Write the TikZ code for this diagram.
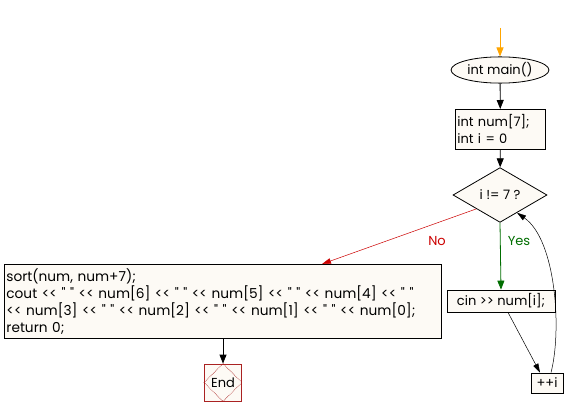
\documentclass[tikz,border=0pt]{standalone}
\usepackage{fontspec}
\setmainfont{Poppins}[Ligatures=TeXOff]
\usetikzlibrary{shapes.geometric,arrows.meta,calc}
\definecolor{fillc}{RGB}{253,250,245}
\definecolor{endred}{RGB}{170,34,34}
\definecolor{nored}{RGB}{204,0,0}
\definecolor{yesgreen}{RGB}{0,110,0}
\definecolor{startor}{RGB}{255,165,0}
\begin{document}
\begin{tikzpicture}[x=1pt,y=-1pt, font=\fontsize{13}{17}\selectfont,
 box/.style={draw, fill=fillc, line width=0.8pt, inner sep=2pt},
 arr/.style={-{Triangle[length=9pt,width=7pt]}, line width=0.8pt},
 tarr/.style={-{Triangle[length=9pt,width=5.5pt]}, line width=0.5pt}]
\useasboundingbox[fill=white] (0,0) rectangle (569,417);
\coordinate (start) at (500,28);
\node[box, ellipse, minimum width=84pt, minimum height=26pt] (main) at (500,70) {int main()};
\node[box, anchor=north west, minimum width=90pt, minimum height=40pt, text width=86pt, align=left] (decl) at (455,109) {int num[7];\\int i = 0};
\node[box, diamond, minimum width=94pt, minimum height=44pt, inner sep=1pt] (cond) at (500,195) {i != 7 ?};
\node[box, anchor=north west, minimum width=437pt, minimum height=74pt, text width=433pt, align=left, font=\fontsize{13.7}{17}\selectfont] (big) at (4,264) {sort(num, num+7);\\cout << " " << num[6] << " " << num[5] << " " << num[4] << " "\\<< num[3] << " " << num[2] << " " << num[1] << " " << num[0];\\return 0;};
\node[box, minimum width=108pt, minimum height=22pt] (cin) at (501,301) {cin >> num[i];};
\node[box, minimum width=32pt, minimum height=20pt] (pp) at (547,383) {++i};
\node[draw=endred, fill=fillc, line width=0.8pt, minimum width=37pt, minimum height=37pt, inner sep=0pt] (end) at (223,382.5) {End};
\draw[endred, densely dotted, line width=0.6pt] (end.north) -- (end.east) -- (end.south) -- (end.west) -- cycle;
\coordinate (noend) at (322,264);
\draw[arr, startor] (start) -- (main);
\draw[arr] (main) -- (decl);
\draw[arr] (decl) -- (cond);
\draw[tarr, nored] (cond.south west) -- (noend);
\node[nored] (no) at (437,241) {No};
\draw[arr, yesgreen] (cond.south) -- (cin.north);
\node[yesgreen] (yes) at (519,241) {Yes};
\draw[tarr] ($(cin.south)+(7,0)$) -- ($(pp.north)+(-7,0)$);
\draw[tarr] ($(pp.north)+(4,0)$) .. controls (562,330) and (556,240) .. ($(cond.south)!0.36!(cond.east)$);
\draw[arr] (big.south -| end.north) -- (end.north);
\end{tikzpicture}
\end{document}
